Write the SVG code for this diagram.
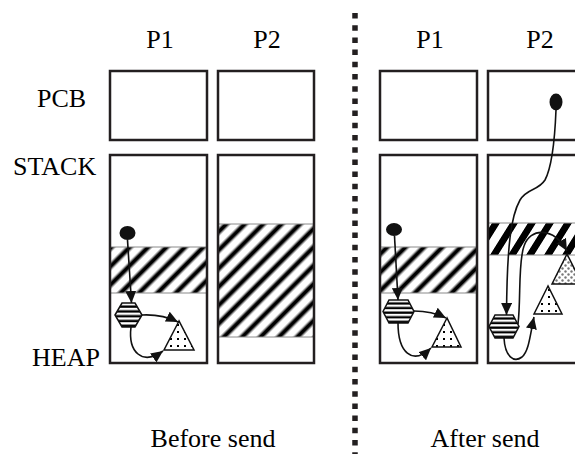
<svg xmlns="http://www.w3.org/2000/svg" width="575" height="454" viewBox="0 0 575 454">
<defs>
<style>
.lbl{font-family:"Liberation Serif","Times New Roman",serif;font-size:26px;fill:#000}
.box{fill:none;stroke:#231f20;stroke-width:2.5}
.band{stroke:#8a8a8a;stroke-width:1}
.con{fill:none;stroke:#111;stroke-width:1.6}
.hex{fill:url(#hstripe);stroke:#111;stroke-width:1.5}
.tri{fill:url(#dots);stroke:#111;stroke-width:1.5}
</style>
<linearGradient id="sg" x1="0" y1="0" x2="1" y2="0">
<stop offset="0" stop-color="#fff"/>
<stop offset="0.22" stop-color="#fff"/>
<stop offset="0.42" stop-color="#000"/>
<stop offset="0.58" stop-color="#000"/>
<stop offset="0.78" stop-color="#fff"/>
<stop offset="1" stop-color="#fff"/>
</linearGradient>
<pattern id="soft" width="13" height="13" patternUnits="userSpaceOnUse" patternTransform="rotate(45)">
<rect width="13" height="13" fill="url(#sg)"/>
</pattern>
<pattern id="hard" width="18" height="18" patternUnits="userSpaceOnUse" patternTransform="translate(490 223) skewX(-32)">
<rect width="18" height="18" fill="#fff"/>
<rect x="2" width="8" height="18" fill="#000"/>
</pattern>
<pattern id="hstripe" patternUnits="objectBoundingBox" patternContentUnits="objectBoundingBox" width="1" height="0.2">
<rect width="1" height="0.2" fill="#fff"/>
<rect y="0.1" width="1" height="0.1" fill="#000"/>
</pattern>
<pattern id="dots" width="7" height="7" patternUnits="userSpaceOnUse">
<rect width="7" height="7" fill="#fff"/>
<rect x="2" y="2" width="2" height="2" fill="#000"/>
</pattern>
<pattern id="gdots" width="6" height="6" patternUnits="userSpaceOnUse">
<rect width="6" height="6" fill="#fff"/>
<circle cx="1.5" cy="1.5" r="1.2" fill="#777"/>
<circle cx="4.5" cy="4.5" r="1.2" fill="#777"/>
</pattern>
<marker id="ah" viewBox="0 0 12 11" refX="12" refY="5.5" markerWidth="12" markerHeight="11" markerUnits="userSpaceOnUse" orient="auto">
<path d="M0,0 L12,5.5 L0,11 z" fill="#111"/>
</marker>
</defs>
<rect width="575" height="454" fill="#fff"/>

<g id="labels">
<text class="lbl" x="160" y="48" text-anchor="middle">P1</text>
<text class="lbl" x="267" y="48" text-anchor="middle">P2</text>
<text class="lbl" x="430" y="48" text-anchor="middle">P1</text>
<text class="lbl" x="540" y="48" text-anchor="middle">P2</text>
<text class="lbl" x="37" y="107">PCB</text>
<text class="lbl" x="13" y="175">STACK</text>
<text class="lbl" x="32" y="366">HEAP</text>
<text class="lbl" x="213" y="447" text-anchor="middle">Before send</text>
<text class="lbl" x="485" y="447" text-anchor="middle">After send</text>
</g>

<g id="divider">
<line x1="355" y1="13" x2="355" y2="454" stroke="#231f20" stroke-width="5.5" stroke-dasharray="5.5 6.7"/>
</g>

<g id="before-p1">
<rect class="box" x="110" y="71" width="97" height="69"/>
<rect x="111" y="247" width="95" height="46" fill="url(#soft)"/>
<line class="band" x1="111" y1="247" x2="206" y2="247"/>
<line class="band" x1="111" y1="293" x2="206" y2="293"/>
<rect class="box" x="110" y="155" width="97" height="208"/>
</g>

<g id="before-p2">
<rect class="box" x="218" y="71" width="96" height="69"/>
<rect x="219" y="224" width="94" height="113" fill="url(#soft)"/>
<line class="band" x1="219" y1="224" x2="313" y2="224"/>
<line class="band" x1="219" y1="337" x2="313" y2="337"/>
<rect class="box" x="218" y="155" width="96" height="208"/>
</g>

<g id="after-p1">
<rect class="box" x="380" y="71" width="97" height="69"/>
<rect x="381" y="247" width="95" height="46" fill="url(#soft)"/>
<line class="band" x1="381" y1="247" x2="476" y2="247"/>
<line class="band" x1="381" y1="293" x2="476" y2="293"/>
<rect class="box" x="380" y="155" width="97" height="208"/>
</g>

<g id="after-p2">
<rect class="box" x="488" y="71" width="110" height="69"/>
<rect x="489" y="223" width="90" height="32" fill="url(#hard)"/>
<line class="band" x1="489" y1="223" x2="575" y2="223"/>
<line class="band" x1="489" y1="255" x2="575" y2="255"/>
<rect class="box" x="488" y="155" width="110" height="208"/>
</g>

<g id="objects">
<ellipse cx="127.5" cy="233" rx="8" ry="7" fill="#111"/>
<polygon class="hex" points="115,315 122,303 135,303 142,315 135,327 122,327"/>
<polygon class="tri" points="179,321 164,350 194,350"/>

<ellipse cx="394" cy="229.5" rx="8" ry="6.5" fill="#111"/>
<polygon class="hex" points="383,311.5 389,300 408,300 414,311.5 408,323 389,323"/>
<polygon class="tri" points="447,318 432,347 461,347"/>

<ellipse cx="556" cy="102" rx="6.5" ry="8.5" fill="#111"/>
<polygon class="hex" points="489,326.5 495,315 513,315 519,326.5 513,338 495,338"/>
<polygon points="567,254 552,284 582,284" fill="url(#gdots)" stroke="#111" stroke-width="1.5"/>
<polygon class="tri" points="548,286 534,314 562,314"/>
</g>

<g id="connectors">
<path class="con" d="M127.5,240 L131.5,303" marker-end="url(#ah)"/>
<path class="con" d="M142,315 Q162,314 178,322" marker-end="url(#ah)"/>
<path class="con" d="M131,327 C128,352 142,366 163,351" marker-end="url(#ah)"/>

<path class="con" d="M394.5,236 L398,300" marker-end="url(#ah)"/>
<path class="con" d="M414,311 Q432,311 446,318" marker-end="url(#ah)"/>
<path class="con" d="M398,323 C398,352 412,366 431,348" marker-end="url(#ah)"/>

<path class="con" d="M556,110 C555,135 553,165 545,180 C538,191 527,188 520,200 C511,216 507,245 506.5,315" marker-end="url(#ah)"/>
<path class="con" d="M518,324 C521,300 518,262 524,246 C530,228 553,226 567,251" marker-end="url(#ah)"/>
<path class="con" d="M504,338 C505,357 514,363 522,357 C529,351 530,335 534,317" marker-end="url(#ah)"/>
</g>
</svg>
